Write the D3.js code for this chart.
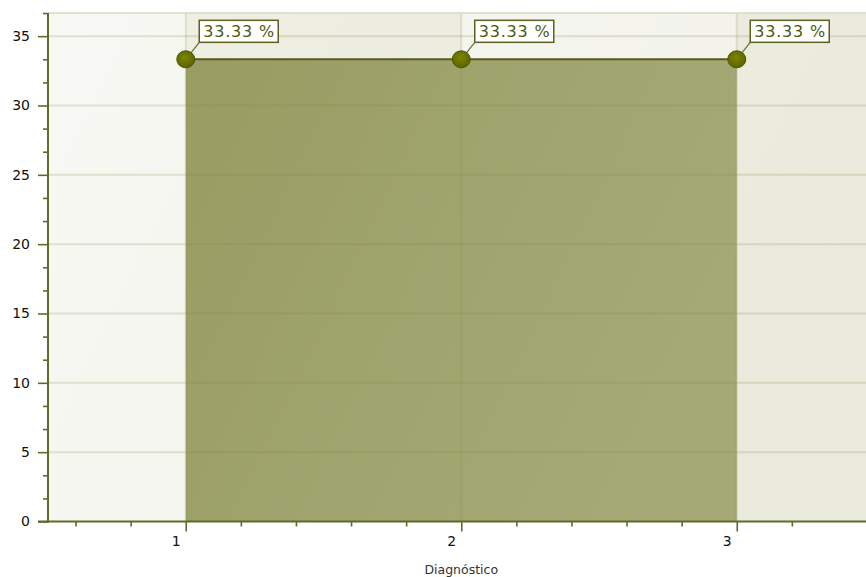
<!DOCTYPE html>
<html><head><meta charset="utf-8">
<script src="https://cdn.jsdelivr.net/npm/d3@7"></script>
<style>
html,body{margin:0;padding:0;background:#fff;overflow:hidden;}
svg{display:block;}
</style></head>
<body>
<svg id="chart" width="866" height="577"></svg>
<script>
// ---- data ----
const categories = [1, 2, 3];
const values = [33.33, 33.33, 33.33];
const pointLabels = ["33.33 %", "33.33 %", "33.33 %"];
const yTicks = [0, 5, 10, 15, 20, 25, 30, 35];
const xTicks = [1, 2, 3];
const xTitle = "Diagnóstico";
const xDomain = [0.5, 3.5];
const yDomain = [0, 36.67];

(function(){
// ---- layout ----
const W = 866, H = 577;
const mL = 48, mT = 13, mB = 521.5, mR = 874.5;
const svg = d3.select("#chart");
const x = d3.scaleLinear().domain(xDomain).range([mL, mR]);
const y = d3.scaleLinear().domain(yDomain).range([mB, mT]);
const axisColor = "#5d6b2b";
const font = "'DejaVu Sans', Verdana, sans-serif";

const defs = svg.append("defs");
const bg = defs.append("linearGradient").attr("id","bg").attr("x1","0").attr("x2","1").attr("y1","0").attr("y2","0.3");
bg.append("stop").attr("offset","0").attr("stop-color","#f8f8f4");
bg.append("stop").attr("offset","1").attr("stop-color","#f2f2ea");
const ag = defs.append("linearGradient").attr("id","areaG").attr("x1","0").attr("x2","1").attr("y1","0").attr("y2","0.4");
ag.append("stop").attr("offset","0").attr("stop-color","#999d63");
ag.append("stop").attr("offset","1").attr("stop-color","#a5a976");
const cg = defs.append("radialGradient").attr("id","dotG").attr("cx","0.45").attr("cy","0.4").attr("r","0.6");
cg.append("stop").attr("offset","0").attr("stop-color","#7c8500");
cg.append("stop").attr("offset","1").attr("stop-color","#5c6300");

const clip = defs.append("clipPath").attr("id","plotClip");
clip.append("rect").attr("x",mL).attr("y",mT).attr("width",mR-mL).attr("height",mB-mT);

const plot = svg.append("g").attr("clip-path","url(#plotClip)");
plot.append("rect").attr("x",mL).attr("y",mT).attr("width",mR-mL).attr("height",mB-mT).attr("fill","url(#bg)");
const strips = [[1,2],[3,4]];
plot.selectAll("rect.strip").data(strips).enter().append("rect").attr("class","strip")
  .attr("x",d=>x(d[0])).attr("width",d=>x(Math.min(d[1],xDomain[1]))-x(d[0]))
  .attr("y",mT).attr("height",mB-mT).attr("fill","rgba(190,190,150,0.16)");

const pts = categories.map((c,i)=>({x:c, y:values[i], label:pointLabels[i]}));
const area = d3.area().x(d=>x(d.x)).y0(y(0)).y1(d=>y(d.y));
plot.append("path").datum(pts).attr("d",area).attr("fill","url(#areaG)");

plot.selectAll("line.hg").data(yTicks.filter(v=>v>0)).enter().append("line").attr("class","hg")
  .attr("x1",mL).attr("x2",mR).attr("y1",d=>y(d)).attr("y2",d=>y(d))
  .attr("stroke","rgba(125,135,60,0.2)").attr("stroke-width",2);
plot.selectAll("line.vg").data(xTicks).enter().append("line").attr("class","vg")
  .attr("y1",mT).attr("y2",mB).attr("x1",d=>x(d)).attr("x2",d=>x(d))
  .attr("stroke","rgba(125,135,60,0.18)").attr("stroke-width",2);
svg.append("line").attr("x1",mL).attr("x2",W).attr("y1",mT).attr("y2",mT).attr("stroke","#d9d9c4").attr("stroke-width",1.5);

const line = d3.line().x(d=>x(d.x)).y(d=>y(d.y));
plot.append("path").datum(pts).attr("d",line).attr("fill","none").attr("stroke","#585c1b").attr("stroke-width",2);

// minor ticks
const yMinor = [];
for (let i = 0; i < yTicks.length; i++) {
  const step = 5;
  yMinor.push(yTicks[i] + step/3, yTicks[i] + 2*step/3);
}
const xMinor = [];
for (let i = 1; i <= 14; i++) {
  const v = xDomain[0] + 0.1 + (i-1)*0.2;
  if (Math.abs(v - Math.round(v)) > 0.05) xMinor.push(v);
}

const gy = svg.append("g").attr("transform",`translate(${mL},0)`);
gy.call(d3.axisLeft(y).tickValues(yMinor.filter(v=>v<yDomain[1])).tickSize(5).tickFormat(""));
gy.select(".domain").remove();
const gy2 = svg.append("g").attr("transform",`translate(${mL},0)`);
gy2.call(d3.axisLeft(y).tickValues(yTicks).tickSize(10).tickPadding(8).tickFormat(d3.format("d")));
gy2.select(".domain").remove();
gy2.selectAll("text").attr("font-family",font).attr("font-size",14).attr("fill","#111");

const gx = svg.append("g").attr("transform",`translate(0,${mB})`);
gx.call(d3.axisBottom(x).tickValues(xMinor).tickSize(5).tickFormat(""));
gx.select(".domain").remove();
const gx2 = svg.append("g").attr("transform",`translate(0,${mB})`);
gx2.call(d3.axisBottom(x).tickValues(xTicks).tickSize(10).tickPadding(5).tickFormat(d3.format("d")));
gx2.select(".domain").remove();
gx2.selectAll("text").attr("font-family",font).attr("font-size",14).attr("fill","#111").attr("dx",-10);
svg.selectAll(".tick line").attr("stroke",axisColor).attr("stroke-width",1.6);

svg.append("line").attr("x1",mL).attr("x2",mL).attr("y1",mT).attr("y2",mB+1).attr("stroke",axisColor).attr("stroke-width",2);
svg.append("line").attr("x1",38).attr("x2",W).attr("y1",mB).attr("y2",mB).attr("stroke",axisColor).attr("stroke-width",2);

svg.append("text").attr("x",(mL+mR)/2).attr("y",574).attr("text-anchor","middle")
  .attr("font-family",font).attr("font-size",12.5).attr("fill","#333").text(xTitle);

const lg = svg.append("g");
pts.forEach(d=>{
  const cx = x(d.x), cy = y(d.y);
  const bx = cx+13.5, by = cy-39, bw = 79, bh = 22;
  lg.append("line").attr("x1",cx).attr("y1",cy).attr("x2",bx).attr("y2",by+bh).attr("stroke","#6a7030").attr("stroke-width",1.2);
  lg.append("rect").attr("x",bx).attr("y",by).attr("width",bw).attr("height",bh).attr("fill","#fff").attr("stroke","#5b6021").attr("stroke-width",1.5);
  lg.append("text").attr("x",bx+4).attr("y",by+17).attr("font-family",font).attr("font-size",16).attr("letter-spacing",0.8)
    .attr("fill","#4c5a10").text(d.label);
});
svg.append("g").selectAll("ellipse").data(pts).enter().append("ellipse")
  .attr("cx",d=>x(d.x)).attr("cy",d=>y(d.y)).attr("rx",9).attr("ry",8.5)
  .attr("fill","url(#dotG)").attr("stroke","#4f5500").attr("stroke-width",1);
})();
</script>
</body></html>
